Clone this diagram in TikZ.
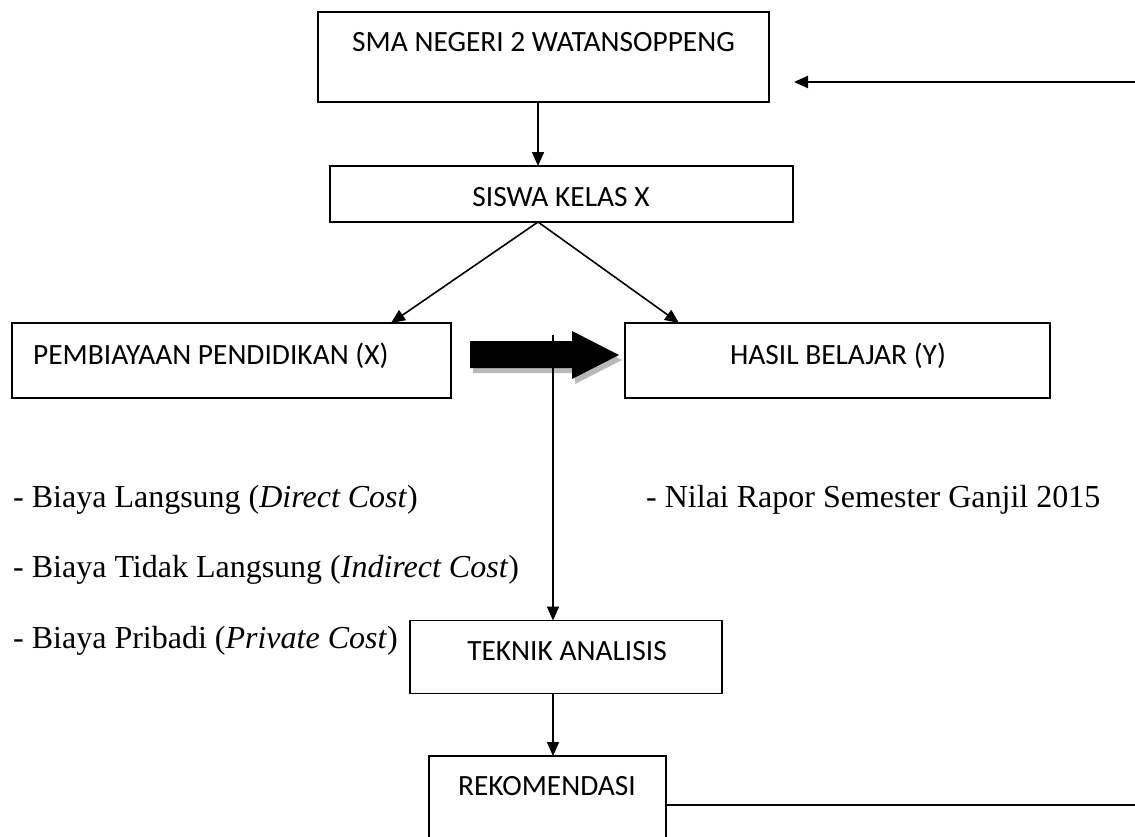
\documentclass[tikz,border=0pt]{standalone}
\usepackage{fontspec}
\setmainfont{Liberation Serif}
\newfontfamily\boxfont{Carlito}
\usetikzlibrary{arrows.meta}
\tikzset{
  box/.style={draw, line width=1.6pt, rectangle, inner sep=0pt, outer sep=0pt},
  btxt/.style={font=\boxfont\fontsize{29.4}{33}\selectfont, inner sep=0pt, anchor=base},
  ltxt/.style={font=\fontsize{32}{36}\selectfont, inner sep=0pt, anchor=base west},
  conn/.style={line width=1.6pt, -{Triangle[length=14pt,width=12pt]}},
}
\begin{document}
\begin{tikzpicture}[x=1pt,y=-1pt]
\useasboundingbox (0,0) rectangle (1135,836);
\clip (0,0) rectangle (1135,836);
% boxes
\node[box, minimum width=451pt, minimum height=90pt] (sma) at (543.5,57) {};
\node[box, minimum width=463pt, minimum height=56pt] (siswa) at (561.5,194) {};
\node[box, minimum width=439pt, minimum height=75pt] (biaya) at (231.5,360.5) {};
\node[box, minimum width=425pt, minimum height=75pt] (hasil) at (837.5,360.5) {};
\node[box, minimum width=312pt, minimum height=73pt] (teknik) at (566,657) {};
\node[box, minimum width=237pt, minimum height=100pt] (rekom) at (547.5,806) {};
% box texts
\node[btxt] (tsma) at (543.5,51) {SMA NEGERI 2 WATANSOPPENG};
\node[btxt] (tsiswa) at (561,206) {SISWA KELAS X};
\node[btxt, anchor=base west] (tbiaya) at (33,364) {PEMBIAYAAN PENDIDIKAN (X)};
\node[btxt] (thasil) at (838,364) {HASIL BELAJAR (Y)};
\node[btxt] (tteknik) at (567,660) {TEKNIK ANALISIS};
\node[btxt] (trekom) at (547,795) {REKOMENDASI};
% list texts
\node[ltxt] (l1) at (13,507) {- Biaya Langsung (\textit{Direct Cost})};
\node[ltxt] (l2) at (13,577) {- Biaya Tidak Langsung (\textit{Indirect Cost})};
\node[ltxt] (l3) at (13,648) {- Biaya Pribadi (\textit{Private Cost})};
\node[ltxt] (l4) at (646,507) {- Nilai Rapor Semester Ganjil 2015};
% thick arrow with shadow
\fill[gray!55] (473,346) -- (575,346) -- (575,336) -- (622,360) -- (575,384) -- (575,373) -- (473,373) -- cycle;
\fill[black] (470,341) -- (572,341) -- (572,331) -- (619,355) -- (572,379) -- (572,368) -- (470,368) -- cycle;
% connectors
\draw[conn] ([xshift=-5.5pt]sma.south) -- ([xshift=-23.5pt]siswa.north);
\draw[conn] ([xshift=-23.5pt]siswa.south) -- ([xshift=159.5pt]biaya.north);
\draw[conn] ([xshift=-23.5pt]siswa.south) -- ([xshift=-158.5pt]hasil.north);
\coordinate (vtop) at (553,335);
\draw[conn] (vtop) -- (vtop |- teknik.north);
\draw[conn] (vtop |- teknik.south) -- (vtop |- rekom.north);
\coordinate (tr) at (1136,82);
\coordinate (tl) at (794,82);
\draw[conn, line width=2.2pt] (tr) -- (tl);
\coordinate (br) at (1136,805);
\draw[line width=2.2pt] (rekom.east |- br) -- (br);
\end{tikzpicture}
\end{document}
